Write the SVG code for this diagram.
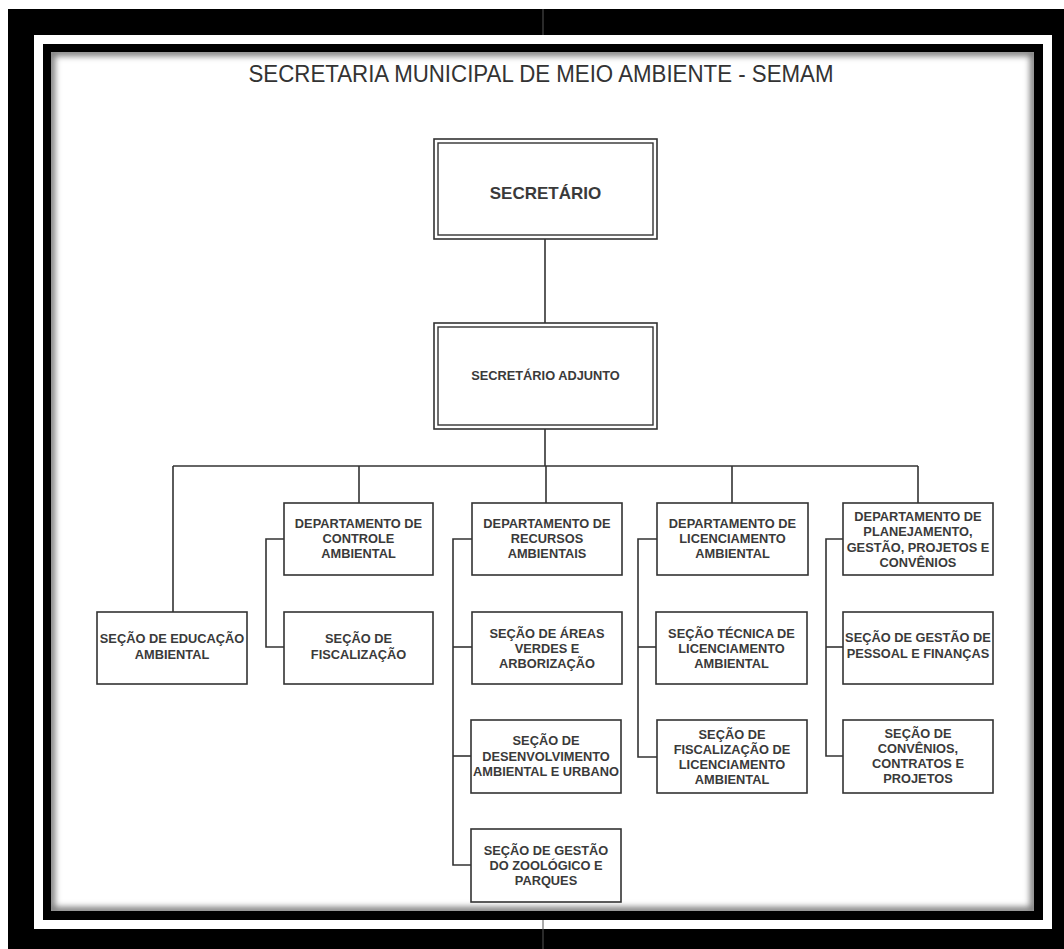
<svg xmlns="http://www.w3.org/2000/svg" width="1064" height="949" viewBox="0 0 1064 949">
  <defs>
    <style>
      .box { fill: #ffffff; stroke: #333333; stroke-width: 1.6; }
      .dbl { fill: none; stroke: #333333; stroke-width: 1.4; }
      .wire { fill: none; stroke: #333333; stroke-width: 1.6; }
      .lbl { font-family: "Liberation Sans", Arial, sans-serif; font-size: 12.8px; font-weight: bold; fill: #3a3a3a; text-anchor: middle; }
      .big { font-family: "Liberation Sans", Arial, sans-serif; font-size: 17px; font-weight: bold; fill: #3a3a3a; text-anchor: middle; }
      .title { font-family: "Liberation Sans", Arial, sans-serif; font-size: 23.5px; fill: #333333; text-anchor: middle; }
    </style>
    <clipPath id="paperClip">
      <rect x="51" y="52" width="983" height="859"/>
    </clipPath>
    <filter id="soft" x="-5%" y="-5%" width="110%" height="110%">
      <feGaussianBlur stdDeviation="3"/>
    </filter>
  </defs>

  <!-- frame -->
  <g id="frame">
    <rect x="0" y="0" width="1064" height="949" fill="#ffffff"/>
    <rect x="8" y="9" width="1056" height="940" fill="#000000"/>
    <rect x="34" y="35" width="1018" height="894" fill="#ffffff"/>
    <rect x="43" y="44" width="1000" height="876" fill="#000000"/>
    <rect x="51" y="52" width="983" height="859" fill="#ffffff"/>
    <rect x="51" y="52" width="983" height="859" fill="none" stroke="#7a7a7a" stroke-width="8" filter="url(#soft)" clip-path="url(#paperClip)"/>
    <line x1="543" y1="9" x2="543" y2="35" stroke="#555555" stroke-width="1"/>
    <line x1="543" y1="920" x2="543" y2="949" stroke="#555555" stroke-width="1"/>
  </g>

  <text class="title" x="541" y="82" textLength="585" lengthAdjust="spacingAndGlyphs">SECRETARIA MUNICIPAL DE MEIO AMBIENTE - SEMAM</text>

  <!-- connectors -->
  <g id="connectors">
    <line class="wire" x1="545" y1="239" x2="545" y2="323"/>
    <line class="wire" x1="545" y1="429" x2="545" y2="466"/>
    <line class="wire" x1="173" y1="466" x2="918" y2="466"/>
    <line class="wire" x1="173" y1="466" x2="173" y2="612"/>
    <line class="wire" x1="359" y1="466" x2="359" y2="503"/>
    <line class="wire" x1="546" y1="466" x2="546" y2="503"/>
    <line class="wire" x1="732" y1="466" x2="732" y2="503"/>
    <line class="wire" x1="918" y1="466" x2="918" y2="503"/>
    <!-- controle -->
    <polyline class="wire" points="284,539 266,539 266,647 284,647"/>
    <!-- recursos -->
    <polyline class="wire" points="472,539 453,539 453,865 471,865"/>
    <line class="wire" x1="453" y1="647" x2="472" y2="647"/>
    <line class="wire" x1="453" y1="756" x2="471" y2="756"/>
    <!-- licenciamento -->
    <polyline class="wire" points="657,539 638,539 638,757 657,757"/>
    <line class="wire" x1="638" y1="647" x2="656" y2="647"/>
    <!-- planejamento -->
    <polyline class="wire" points="843,539 826,539 826,756 843,756"/>
    <line class="wire" x1="826" y1="647" x2="843" y2="647"/>
  </g>

  <g id="secretario">
    <rect class="box" x="434" y="139" width="223" height="100" stroke-width="1.4"/>
    <rect class="dbl" x="438" y="143" width="215" height="92"/>
    <text class="big" x="545.5" y="199">SECRETÁRIO</text>
  </g>

  <g id="secretario-adjunto">
    <rect class="box" x="434" y="323" width="223" height="106" stroke-width="1.4"/>
    <rect class="dbl" x="438" y="327" width="215" height="98"/>
    <text class="lbl" x="545.5" y="380" font-size="13">SECRETÁRIO ADJUNTO</text>
  </g>

  <g id="secao-educacao">
    <rect class="box" x="97" y="612" width="150" height="72"/>
    <text class="lbl" x="172" y="643">SEÇÃO DE EDUCAÇÃO</text>
    <text class="lbl" x="172" y="659">AMBIENTAL</text>
  </g>

  <g id="dep-controle">
    <rect class="box" x="284" y="503" width="149" height="72"/>
    <text class="lbl" x="358.5" y="528">DEPARTAMENTO DE</text>
    <text class="lbl" x="358.5" y="543">CONTROLE</text>
    <text class="lbl" x="358.5" y="558">AMBIENTAL</text>
  </g>

  <g id="secao-fiscalizacao">
    <rect class="box" x="284" y="612" width="149" height="72"/>
    <text class="lbl" x="358.5" y="643">SEÇÃO DE</text>
    <text class="lbl" x="358.5" y="659">FISCALIZAÇÃO</text>
  </g>

  <g id="dep-recursos">
    <rect class="box" x="472" y="503" width="150" height="72"/>
    <text class="lbl" x="547" y="528">DEPARTAMENTO DE</text>
    <text class="lbl" x="547" y="543">RECURSOS</text>
    <text class="lbl" x="547" y="558">AMBIENTAIS</text>
  </g>

  <g id="secao-areas-verdes">
    <rect class="box" x="472" y="612" width="150" height="72"/>
    <text class="lbl" x="547" y="638">SEÇÃO DE ÁREAS</text>
    <text class="lbl" x="547" y="653">VERDES E</text>
    <text class="lbl" x="547" y="668">ARBORIZAÇÃO</text>
  </g>

  <g id="secao-desenvolvimento">
    <rect class="box" x="471" y="720" width="150" height="73"/>
    <text class="lbl" x="546" y="745">SEÇÃO DE</text>
    <text class="lbl" x="546" y="761">DESENVOLVIMENTO</text>
    <text class="lbl" x="546" y="776">AMBIENTAL E URBANO</text>
  </g>

  <g id="secao-zoologico">
    <rect class="box" x="471" y="829" width="150" height="73"/>
    <text class="lbl" x="546" y="855">SEÇÃO DE GESTÃO</text>
    <text class="lbl" x="546" y="870">DO ZOOLÓGICO E</text>
    <text class="lbl" x="546" y="885">PARQUES</text>
  </g>

  <g id="dep-licenciamento">
    <rect class="box" x="657" y="503" width="151" height="72"/>
    <text class="lbl" x="732.5" y="528">DEPARTAMENTO DE</text>
    <text class="lbl" x="732.5" y="543">LICENCIAMENTO</text>
    <text class="lbl" x="732.5" y="558">AMBIENTAL</text>
  </g>

  <g id="secao-tecnica">
    <rect class="box" x="656" y="612" width="151" height="72"/>
    <text class="lbl" x="731.5" y="638">SEÇÃO TÉCNICA DE</text>
    <text class="lbl" x="731.5" y="653">LICENCIAMENTO</text>
    <text class="lbl" x="731.5" y="668">AMBIENTAL</text>
  </g>

  <g id="secao-fiscalizacao-licenciamento">
    <rect class="box" x="657" y="720" width="150" height="73"/>
    <text class="lbl" x="732" y="739">SEÇÃO DE</text>
    <text class="lbl" x="732" y="754">FISCALIZAÇÃO DE</text>
    <text class="lbl" x="732" y="769">LICENCIAMENTO</text>
    <text class="lbl" x="732" y="784">AMBIENTAL</text>
  </g>

  <g id="dep-planejamento">
    <rect class="box" x="843" y="503" width="150" height="72"/>
    <text class="lbl" x="918" y="521">DEPARTAMENTO DE</text>
    <text class="lbl" x="918" y="536">PLANEJAMENTO,</text>
    <text class="lbl" x="918" y="552">GESTÃO, PROJETOS E</text>
    <text class="lbl" x="918" y="567">CONVÊNIOS</text>
  </g>

  <g id="secao-gestao-pessoal">
    <rect class="box" x="843" y="612" width="150" height="72"/>
    <text class="lbl" x="918" y="642">SEÇÃO DE GESTÃO DE</text>
    <text class="lbl" x="918" y="658">PESSOAL E FINANÇAS</text>
  </g>

  <g id="secao-convenios">
    <rect class="box" x="843" y="720" width="150" height="73"/>
    <text class="lbl" x="918" y="738">SEÇÃO DE</text>
    <text class="lbl" x="918" y="753">CONVÊNIOS,</text>
    <text class="lbl" x="918" y="768">CONTRATOS E</text>
    <text class="lbl" x="918" y="783">PROJETOS</text>
  </g>
</svg>
